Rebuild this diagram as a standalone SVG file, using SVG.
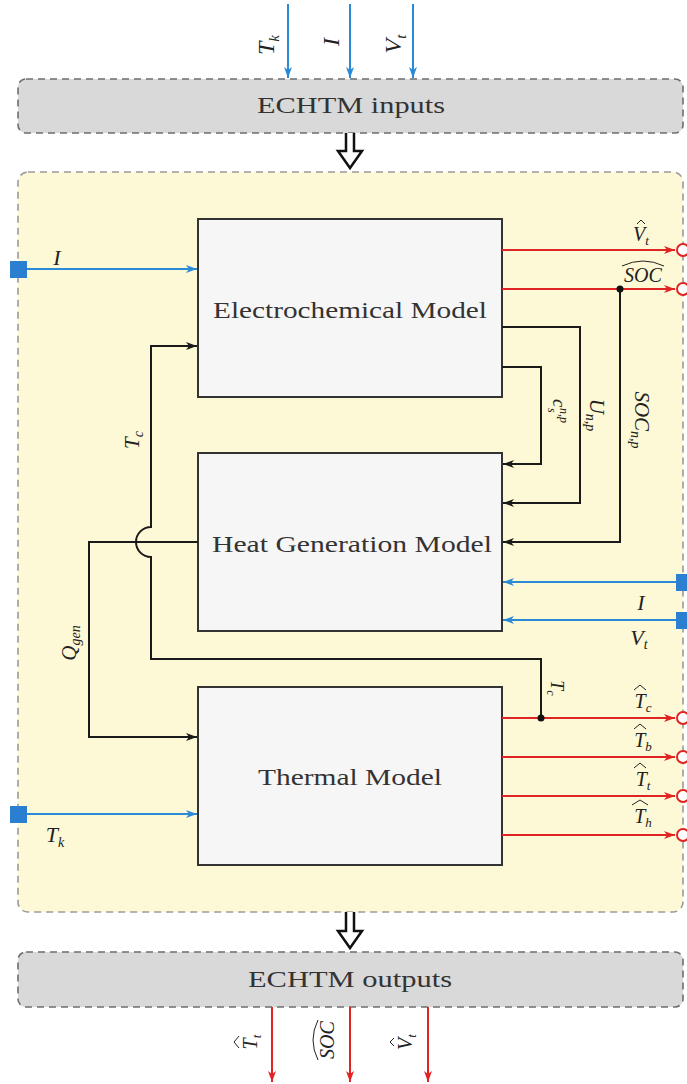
<svg xmlns="http://www.w3.org/2000/svg" width="687" height="1084" viewBox="0 0 687 1084">
<defs>
<marker id="ab" markerUnits="userSpaceOnUse" markerWidth="12" markerHeight="10" refX="11" refY="5" orient="auto"><path d="M0,1 L11,5 L0,9 L3,5 z" fill="#1a1a1a"/></marker>
<marker id="abl" markerUnits="userSpaceOnUse" markerWidth="12" markerHeight="10" refX="11" refY="5" orient="auto"><path d="M0,1 L11,5 L0,9 L3,5 z" fill="#2b8ad6"/></marker>
<marker id="ar" markerUnits="userSpaceOnUse" markerWidth="12" markerHeight="10" refX="11" refY="5" orient="auto"><path d="M0,1 L11,5 L0,9 L3,5 z" fill="#e02424"/></marker>
</defs>
<style>
.frame{fill:#d9d9d9;stroke:#6e6e6e;stroke-width:1.6;stroke-dasharray:7 5}
.yel{fill:#fdf9d6;stroke:#9a9a9a;stroke-width:1.6;stroke-dasharray:7 5}
.blk{fill:#f6f6f6;stroke:#333;stroke-width:2}
.t{font-family:"Liberation Serif","DejaVu Serif",serif;fill:#333}
.m{font-family:"Liberation Serif","DejaVu Serif",serif;font-style:italic;fill:#222}
.cb{fill:none;stroke:#1a1a1a;stroke-width:2}
.cbl{fill:none;stroke:#2b8ad6;stroke-width:2}
.cr{fill:none;stroke:#e02424;stroke-width:2}
.port{fill:#fff;stroke:#e02424;stroke-width:2}
.sq{fill:#2b7fd0}
.hat{fill:none;stroke:#222;stroke-width:1}
.big{fill:#fff;stroke:#111;stroke-width:2.5;stroke-linejoin:miter}
</style>

<g id="inputs">
<rect class="frame" x="18" y="79" width="665" height="54" rx="8"/>
<text class="t" x="351" y="113" font-size="23" text-anchor="middle" textLength="188" lengthAdjust="spacingAndGlyphs">ECHTM inputs</text>
</g>

<g id="main">
<rect class="yel" x="18" y="172" width="665" height="740" rx="10"/>
</g>

<g id="electrochemical">
<rect class="blk" x="198" y="219" width="304" height="178"/>
<text class="t" x="350" y="318" font-size="24" text-anchor="middle" textLength="274" lengthAdjust="spacingAndGlyphs">Electrochemical Model</text>
</g>
<g id="heatgen">
<rect class="blk" x="198" y="453" width="304" height="178"/>
<text class="t" x="352" y="552" font-size="24" text-anchor="middle" textLength="280" lengthAdjust="spacingAndGlyphs">Heat Generation Model</text>
</g>
<g id="thermal">
<rect class="blk" x="198" y="687" width="304" height="178"/>
<text class="t" x="350" y="785" font-size="24" text-anchor="middle" textLength="184" lengthAdjust="spacingAndGlyphs">Thermal Model</text>
</g>

<g id="outputs">
<rect class="frame" x="18" y="952" width="665" height="55" rx="8"/>
<text class="t" x="350" y="987" font-size="23" text-anchor="middle" textLength="204" lengthAdjust="spacingAndGlyphs">ECHTM outputs</text>
</g>

<g id="connectors">
<line class="cbl" x1="288" y1="4" x2="288" y2="78" marker-end="url(#abl)"/>
<line class="cbl" x1="350" y1="4" x2="350" y2="78" marker-end="url(#abl)"/>
<line class="cbl" x1="413" y1="4" x2="413" y2="78" marker-end="url(#abl)"/>
<path class="big" d="M346,133 V151 H338 L350,168 L362,151 H354 V133"/>
<path class="big" d="M346,912 V931 H338 L350,948 L362,931 H354 V912"/>
<rect class="sq" x="10" y="261" width="17" height="17"/>
<line class="cbl" x1="27" y1="269" x2="197" y2="269" marker-end="url(#abl)"/>
<rect class="sq" x="10" y="806" width="17" height="17"/>
<line class="cbl" x1="27" y1="814" x2="197" y2="814" marker-end="url(#abl)"/>
<rect class="sq" x="676" y="574" width="17" height="17"/>
<line class="cbl" x1="676" y1="582" x2="503" y2="582" marker-end="url(#abl)"/>
<rect class="sq" x="676" y="612" width="17" height="17"/>
<line class="cbl" x1="676" y1="620" x2="503" y2="620" marker-end="url(#abl)"/>
<line class="cr" x1="502" y1="250" x2="675" y2="250" marker-end="url(#ar)"/>
<circle class="port" cx="683" cy="250" r="6"/>
<line class="cr" x1="502" y1="289" x2="675" y2="289" marker-end="url(#ar)"/>
<circle class="port" cx="683" cy="289" r="6"/>
<line class="cr" x1="502" y1="718" x2="675" y2="718" marker-end="url(#ar)"/>
<circle class="port" cx="683" cy="718" r="6"/>
<line class="cr" x1="502" y1="757" x2="675" y2="757" marker-end="url(#ar)"/>
<circle class="port" cx="683" cy="757" r="6"/>
<line class="cr" x1="502" y1="796" x2="675" y2="796" marker-end="url(#ar)"/>
<circle class="port" cx="683" cy="796" r="6"/>
<line class="cr" x1="502" y1="835" x2="675" y2="835" marker-end="url(#ar)"/>
<circle class="port" cx="683" cy="835" r="6"/>
<path class="cb" d="M502,367 H541 V464 H503" marker-end="url(#ab)"/>
<path class="cb" d="M502,327 H580 V503 H503" marker-end="url(#ab)"/>
<path class="cb" d="M620,289 V542 H503" marker-end="url(#ab)"/>
<circle cx="620" cy="289" r="3.5" fill="#111"/>
<path class="cb" d="M198,542 H89 V737 H197" marker-end="url(#ab)"/>
<path class="cb" d="M541,718 V659 H151 V557 A15,15 0 0 1 151,527 V346 H197" marker-end="url(#ab)"/>
<circle cx="541" cy="718" r="3.5" fill="#111"/>
<line class="cr" x1="272" y1="1007" x2="272" y2="1082" marker-end="url(#ar)"/>
<line class="cr" x1="350" y1="1007" x2="350" y2="1082" marker-end="url(#ar)"/>
<line class="cr" x1="428" y1="1007" x2="428" y2="1082" marker-end="url(#ar)"/>
</g>

<g id="labels">
<text class="m" font-size="24" text-anchor="middle" transform="translate(274,45) rotate(-90)">T<tspan font-size="15" dy="5">k</tspan></text>
<text class="m" font-size="24" text-anchor="middle" transform="translate(339,42) rotate(-90)">I</text>
<text class="m" font-size="24" text-anchor="middle" transform="translate(401,44) rotate(-90)">V<tspan font-size="15" dy="5">t</tspan></text>
<text class="m" x="57" y="265" font-size="22" text-anchor="middle">I</text>
<text class="m" x="55" y="842" font-size="22" text-anchor="middle">T<tspan font-size="14" dy="5">k</tspan></text>
<text class="m" x="641" y="241" font-size="20" text-anchor="middle">V<tspan font-size="13" dy="4">t</tspan></text>
<path class="hat" d="M637,224 L641,220 L645,224"/>
<text class="m" x="643" y="282" font-size="20" text-anchor="middle">SOC</text>
<path class="hat" d="M622,266 Q643,256 664,266"/>
<text class="m" font-size="21" text-anchor="middle" transform="translate(139,440) rotate(-90)">T<tspan font-size="14" dy="4">c</tspan></text>
<text class="m" font-size="21" text-anchor="middle" transform="translate(76,643) rotate(-90)">Q<tspan font-size="14" dy="4">gen</tspan></text>
<g transform="translate(553,408) rotate(90)">
<text class="m" x="-9" y="0" font-size="19">c</text>
<text class="m" x="0" y="5" font-size="12">s</text>
<text class="m" x="0" y="-7" font-size="12">n,p</text>
</g>
<text class="m" font-size="21" text-anchor="middle" transform="translate(590,415) rotate(90)">U<tspan font-size="14" dy="4">n,p</tspan></text>
<text class="m" font-size="21" text-anchor="middle" transform="translate(635,420) rotate(90)">SOC<tspan font-size="14" dy="4">n,p</tspan></text>
<text class="m" font-size="18" text-anchor="middle" transform="translate(551,688) rotate(90)">T<tspan font-size="12" dy="4">c</tspan></text>
<text class="m" x="641" y="610" font-size="22" text-anchor="middle">I</text>
<text class="m" x="639" y="645" font-size="22" text-anchor="middle">V<tspan font-size="14" dy="4">t</tspan></text>
<text class="m" x="643" y="708" font-size="20" text-anchor="middle">T<tspan font-size="13" dy="4">c</tspan></text>
<path class="hat" d="M634,690 L640,685 L646,690"/>
<text class="m" x="643" y="747" font-size="20" text-anchor="middle">T<tspan font-size="13" dy="4">b</tspan></text>
<path class="hat" d="M634,729 L640,724 L646,729"/>
<text class="m" x="643" y="786" font-size="20" text-anchor="middle">T<tspan font-size="13" dy="4">t</tspan></text>
<path class="hat" d="M634,768 L640,763 L646,768"/>
<text class="m" x="643" y="823" font-size="20" text-anchor="middle">T<tspan font-size="13" dy="4">h</tspan></text>
<path class="hat" d="M632,805 L640,800 L648,805"/>
<g transform="translate(257,1042) rotate(-90)">
<text class="m" x="0" y="0" font-size="20" text-anchor="middle">T<tspan font-size="13" dy="4">t</tspan></text>
<path class="hat" d="M-6,-18 L0,-23 L6,-18"/>
</g>
<g transform="translate(334,1040) rotate(-90)">
<text class="m" x="0" y="0" font-size="20" text-anchor="middle">SOC</text>
<path class="hat" d="M-20,-16 Q0,-26 20,-16"/>
</g>
<g transform="translate(412,1042) rotate(-90)">
<text class="m" x="0" y="0" font-size="20" text-anchor="middle">V<tspan font-size="13" dy="4">t</tspan></text>
<path class="hat" d="M-4,-18 L0,-22 L4,-18"/>
</g>
</g>
</svg>
